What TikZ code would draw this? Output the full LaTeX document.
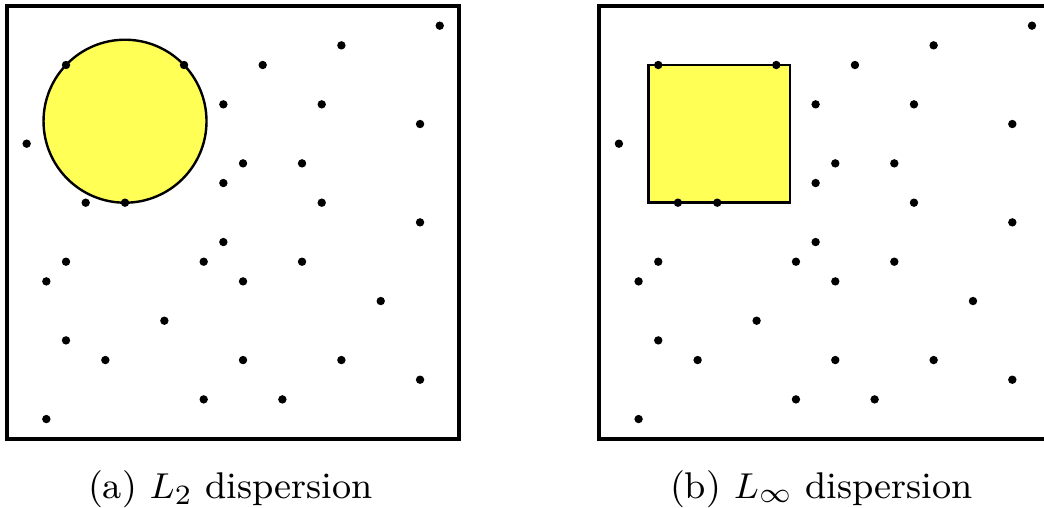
\documentclass[tikz,border=0pt]{standalone}
\definecolor{ballyellow}{RGB}{255,255,85}
\begin{document}
\begin{tikzpicture}[x=4.9175pt,y=-4.9175pt,
  dot/.style={circle,fill=black,inner sep=0pt,minimum size=2.1pt},
  frame/.style={draw=black,line width=1pt},
  ball/.style={draw=black,fill=ballyellow,line width=0.6pt},
  caption/.style={anchor=base,font=\fontsize{9.3}{11}\selectfont,inner sep=0pt}]
\clip (-0.356,-0.305) rectangle (52.72,25.52);
\def\pts{22/1,17/2,3/3,9/3,13/3,11/5,16/5,21/6,1/7,12/8,15/8,11/9,4/10,6/10,16/10,21/11,11/12,3/13,10/13,15/13,2/14,12/14,19/15,8/16,3/17,5/18,12/18,17/18,21/19,10/20,14/20,2/21}
% panel (a)
\begin{scope}
  \draw[frame] (0,0) rectangle (23,22);
  \draw[ball] (6,5.857) circle[radius=4.143];
  \foreach \i/\j [count=\k] in \pts {\node[dot] (a\k) at (\i,\j) {};}
  \node[caption] (capa) at (11.36,25.06) {(a) $L_2$ dispersion};
\end{scope}
% panel (b)
\begin{scope}[shift={(30.11,0)}]
  \draw[frame] (0,0) rectangle (23,22);
  \draw[ball] (2.5,3) rectangle (9.7,10);
  \foreach \i/\j [count=\k] in \pts {\node[dot] (b\k) at (\i,\j) {};}
  \node[caption] (capb) at (11.3,25.06) {(b) $L_\infty$ dispersion};
\end{scope}
\end{tikzpicture}
\end{document}
